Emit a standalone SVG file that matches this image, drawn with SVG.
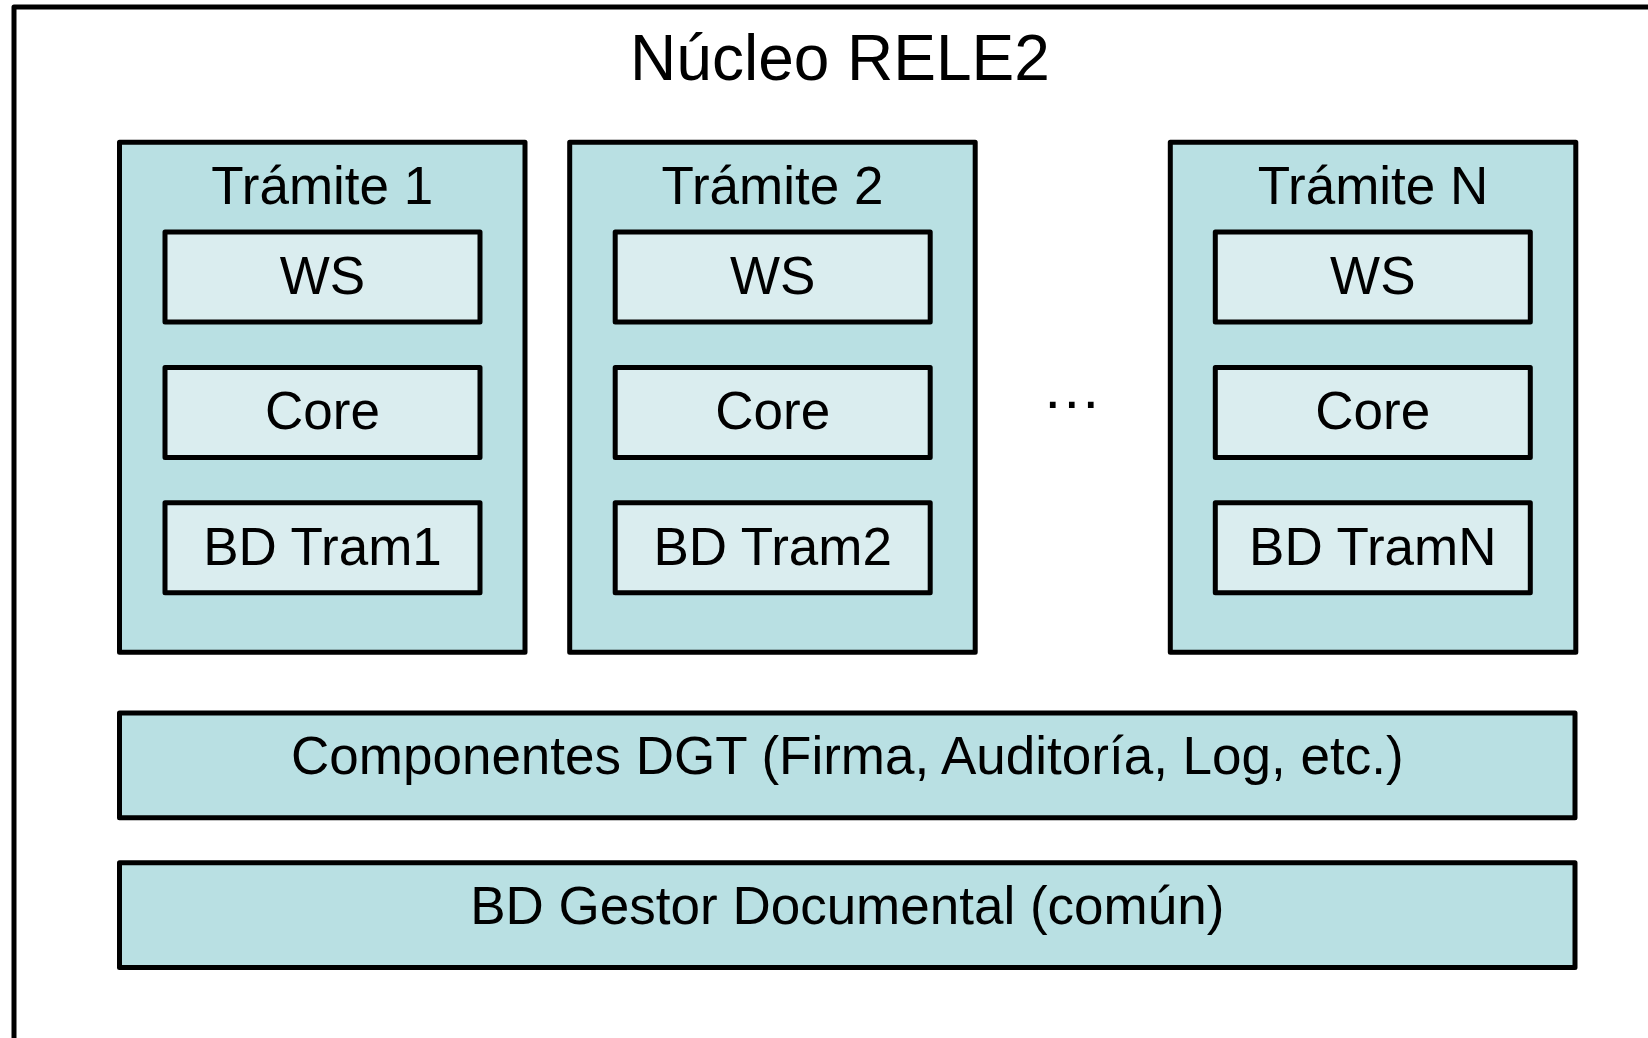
<svg xmlns="http://www.w3.org/2000/svg" width="1648" height="1038" viewBox="0 0 1648 1038">
  <style>
    text { font-family: "Liberation Sans", Arial, sans-serif; fill: #000; text-anchor: middle; }
    .frame { fill: #FFFFFF; stroke: #000; stroke-width: 5; stroke-linejoin: round; }
    .tram { fill: #B9E0E3; stroke: #000; stroke-width: 5; stroke-linejoin: round; }
    .inner { fill: #DAEDEF; stroke: #000; stroke-width: 5; stroke-linejoin: round; }
    .bar { fill: #B9E0E3; stroke: #000; stroke-width: 5; stroke-linejoin: round; }
    .lbl { font-size: 53px; }
    .title { font-size: 64px; }
  </style>
  <rect x="0" y="0" width="1648" height="1038" fill="#FFFFFF"/>

  <g id="nucleo">
    <rect class="frame" x="14" y="7" width="1700" height="1100"/>
    <text class="title" x="840" y="80">Núcleo RELE2</text>
  </g>

  <g id="tramite1">
    <rect class="tram" x="119.5" y="142.3" width="405.5" height="510"/>
    <text class="lbl" x="322.3" y="204">Trámite 1</text>
    <g id="tramite1-ws">
      <rect class="inner" x="165" y="232" width="315" height="90"/>
      <text class="lbl" x="322.5" y="293.5">WS</text>
    </g>
    <g id="tramite1-core">
      <rect class="inner" x="165" y="367.5" width="315" height="90"/>
      <text class="lbl" x="322.5" y="429">Core</text>
    </g>
    <g id="tramite1-bd">
      <rect class="inner" x="165" y="502.7" width="315" height="90"/>
      <text class="lbl" x="322.5" y="564.5">BD Tram1</text>
    </g>
  </g>

  <g id="tramite2">
    <rect class="tram" x="569.7" y="142.3" width="405.5" height="510"/>
    <text class="lbl" x="772.5" y="204">Trámite 2</text>
    <g id="tramite2-ws">
      <rect class="inner" x="615.2" y="232" width="315" height="90"/>
      <text class="lbl" x="772.7" y="293.5">WS</text>
    </g>
    <g id="tramite2-core">
      <rect class="inner" x="615.2" y="367.5" width="315" height="90"/>
      <text class="lbl" x="772.7" y="429">Core</text>
    </g>
    <g id="tramite2-bd">
      <rect class="inner" x="615.2" y="502.7" width="315" height="90"/>
      <text class="lbl" x="772.7" y="564.5">BD Tram2</text>
    </g>
  </g>

  <g id="ellipsis">
    <text x="1071.7" y="408" style="font-size:60px">…</text>
  </g>

  <g id="tramiteN">
    <rect class="tram" x="1170.3" y="142.3" width="405.5" height="510"/>
    <text class="lbl" x="1373" y="204">Trámite N</text>
    <g id="tramiteN-ws">
      <rect class="inner" x="1215.3" y="232" width="315" height="90"/>
      <text class="lbl" x="1372.8" y="293.5">WS</text>
    </g>
    <g id="tramiteN-core">
      <rect class="inner" x="1215.3" y="367.5" width="315" height="90"/>
      <text class="lbl" x="1372.8" y="429">Core</text>
    </g>
    <g id="tramiteN-bd">
      <rect class="inner" x="1215.3" y="502.7" width="315" height="90"/>
      <text class="lbl" x="1372.8" y="564.5">BD TramN</text>
    </g>
  </g>

  <g id="componentes">
    <rect class="bar" x="119.5" y="713" width="1455.5" height="104.7"/>
    <text class="lbl" x="847.3" y="774">Componentes DGT (Firma, Auditoría, Log, etc.)</text>
  </g>

  <g id="gestor">
    <rect class="bar" x="119.5" y="862.7" width="1455.5" height="104.8"/>
    <text class="lbl" x="847.3" y="923.5">BD Gestor Documental (común)</text>
  </g>

  <g id="connectors"/>
</svg>
